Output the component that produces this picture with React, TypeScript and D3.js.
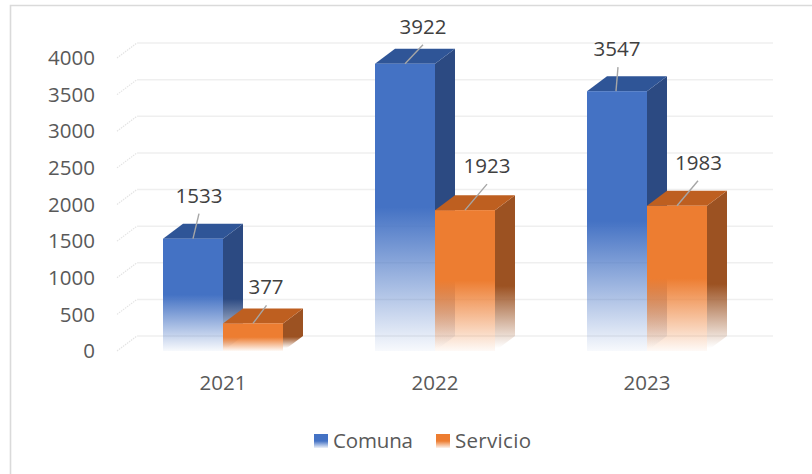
import React from "react";
import * as d3 from "d3";

const categories = ["2021", "2022", "2023"];
const comuna = [1533, 3922, 3547];
const servicio = [377, 1923, 1983];
const yTicks = [0, 500, 1000, 1500, 2000, 2500, 3000, 3500, 4000];
const seriesNames = ["Comuna", "Servicio"];
const seriesFront = ["#4472C4", "#ED7D31"];
const seriesTop = ["#2F5597", "#BE5F20"];
const seriesSide = ["#2C4A82", "#9C5222"];
// leader line: [start dx, end dx, rise, label dx] per series per category
const comunaLeaders = [[0, 6, 25, 6], [0, 18, 19, 18], [-1, 1, 24, 0]];
const servicioLeaders = [[0, 13.5, 18, 13], [0, 22, 26, 22], [0, 21, 25, 21.5]];

const W = 812, H = 474;
const DX = 20, DY = -15;
const BW = 60;
const FONT = "'Open Sans', 'Noto Sans', sans-serif";

const x0 = d3.scaleBand<string>().domain(categories).range([117, 753]);
const y = d3.scaleLinear().domain([0, 4000]).range([351, 58]);

function barX(cat: string, i: number) {
  return x0(cat)! + x0.bandwidth() / 2 - BW + i * BW;
}

function Bar({ cat, v, i }: { cat: string; v: number; i: number }) {
  const x = barX(cat, i);
  const yt = y(v), yb = y(0);
  const h = yb - yt;
  const id = `${cat}-${i}`;
  const top = `M${x},${yt}L${x + DX},${yt + DY}L${x + BW + DX},${yt + DY}L${x + BW},${yt}Z`;
  const side = `M${x + BW},${yt}L${x + BW + DX},${yt + DY}L${x + BW + DX},${yb + DY}L${x + BW},${yb}Z`;
  return (
    <g>
      <defs>
        <linearGradient id={`f${id}`} gradientUnits="userSpaceOnUse" x1="0" x2="0" y1={yt} y2={yb}>
          <stop offset={0.5} stopColor={seriesFront[i]} />
          <stop offset={1} stopColor={seriesFront[i]} stopOpacity={0.04} />
        </linearGradient>
        <linearGradient id={`s${id}`} gradientUnits="userSpaceOnUse" x1="0" x2="0" y1={yt} y2={yb - 3}>
          <stop offset={0.55} stopColor={seriesSide[i]} />
          <stop offset={1} stopColor={seriesSide[i]} stopOpacity={0} />
        </linearGradient>
      </defs>
      <path d={side} fill={`url(#s${id})`} />
      <path d={top} fill={seriesTop[i]} />
      <rect x={x} y={yt} width={BW} height={h} fill={`url(#f${id})`} />
    </g>
  );
}

function Label({ cat, v, i, k }: { cat: string; v: number; i: number; k: number }) {
  const mid = barX(cat, i) + BW / 2;
  const yt = y(v);
  const [sx, ex, rise, ldx] = (i === 0 ? comunaLeaders : servicioLeaders)[k];
  return (
    <g>
      <line x1={mid + sx} y1={yt} x2={mid + ex} y2={yt - rise} stroke="#A6A6A6" strokeWidth={1.4} />
      <text x={mid + ldx} y={yt - rise - 11} textAnchor="middle" fontFamily={FONT} fontSize={20.5} fill="#404040">{v}</text>
    </g>
  );
}

export default function App() {
  const series = [comuna, servicio];
  return (
    <svg width={W} height={H} style={{ position: "absolute", left: 0, top: 0, background: "#fff" }}>
      <defs>
        {seriesFront.map((c, i) => (
          <linearGradient key={c} id={`leg${i}`} x1="0" x2="0" y1="0" y2="1">
            <stop offset={0.5} stopColor={c} />
            <stop offset={1} stopColor={c} stopOpacity={0.1} />
          </linearGradient>
        ))}
      </defs>
      <path d={`M10.5,${H}V5.5H${W}`} fill="none" stroke="#DADADA" strokeWidth={1.6} />
      {yTicks.map((t) => (
        <g key={t}>
          <line x1={x0.range()[0]} y1={y(t)} x2={x0.range()[0] + DX} y2={y(t) + DY} stroke="#E4E4E4" strokeWidth={1.2} strokeDasharray="1.5 1" />
          <line x1={x0.range()[0] + DX} y1={y(t) + DY} x2={x0.range()[1] + DX} y2={y(t) + DY} stroke="#EFEFEF" strokeWidth={1.5} />
          <text x={95} y={y(t)} dy="0.35em" textAnchor="end" fontFamily={FONT} fontSize={20.5} fill="#595959">{t}</text>
        </g>
      ))}
      {categories.map((c, k) => (
        <g key={c}>
          {series.map((s, i) => <Bar key={i} cat={c} v={s[k]} i={i} />)}
        </g>
      ))}
      {categories.map((c, k) => (
        <g key={c}>
          {series.map((s, i) => <Label key={i} cat={c} v={s[k]} i={i} k={k} />)}
          <text x={x0(c)! + x0.bandwidth() / 2} y={390} textAnchor="middle" fontFamily={FONT} fontSize={20.5} fill="#595959">{c}</text>
        </g>
      ))}
      {seriesNames.map((n, i) => (
        <g key={n} transform={`translate(${i === 0 ? 314 : 436},434)`}>
          <rect width={14} height={14} fill={`url(#leg${i})`} />
          <text x={19} y={14} fontFamily={FONT} fontSize={20.5} fill="#595959" textLength={i === 0 ? 80 : 76}>{n}</text>
        </g>
      ))}
    </svg>
  );
}
